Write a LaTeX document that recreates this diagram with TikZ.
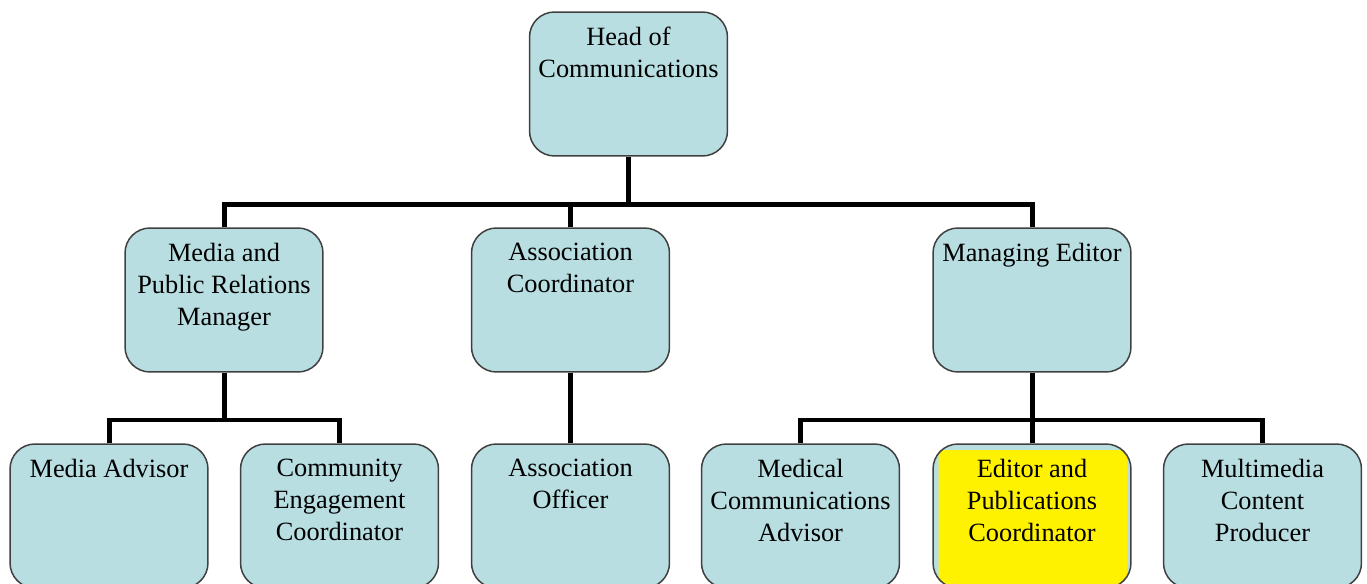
\documentclass[tikz,border=0pt]{standalone}
\usepackage{fontspec}
\setmainfont{Liberation Serif}
\usetikzlibrary{positioning}
\definecolor{boxblue}{RGB}{184,222,226}
\definecolor{boxline}{RGB}{64,64,64}
\newcommand{\roletext}[1]{\parbox[c][2.88cm][t]{3.96cm}{\centering\vspace*{0.3cm}#1}}
\tikzset{
  role/.style={
    draw=boxline, fill=boxblue, rectangle, rounded corners=0.5cm, line width=0.03cm,
    minimum width=3.96cm, minimum height=2.88cm, inner sep=0mm,
    font=\fontsize{15}{18.2}\selectfont
  },
  hilite/.style={
    role, path picture={\fill[yellow, rounded corners=2pt]
      ([xshift=0.11cm,yshift=-0.12cm]path picture bounding box.north west) rectangle
      ([xshift=-0.07cm]path picture bounding box.south east);}
  },
  conn/.style={line width=0.1cm, black}
}

\begin{document}
\begin{tikzpicture}[x=0.02cm, y=-0.02cm]
 \useasboundingbox (0, 0) rectangle (1367, 584);

 \node[role] (head) at (628.5, 84) {\roletext{Head of\\Communications}};

 \node[role] (mpr) at (224, 300) {\roletext{Media and\\Public Relations\\Manager}};
 \node[role] (ac) at (570.5, 300) {\roletext{Association\\Coordinator}};
 \node[role] (me) at (1032, 300) {\roletext{Managing Editor}};

 \node[role] (ma) at (109, 516) {\roletext{Media Advisor}};
 \node[role] (cec) at (339.5, 516) {\roletext{Community\\Engagement\\Coordinator}};
 \node[role] (ao) at (570.5, 516) {\roletext{Association\\Officer}};
 \node[role] (mca) at (800.5, 516) {\roletext{Medical\\Communications\\Advisor}};
 \node[hilite] (epc) at (1032, 516) {\roletext{Editor and\\Publications\\Coordinator}};
 \node[role] (mcp) at (1262.5, 516) {\roletext{Multimedia\\Content\\Producer}};

 \coordinate (top) at (628.5, 205);
 \coordinate (left) at (224, 420);
 \coordinate (right) at (1032, 420);

 % head to the three managers
 \draw[conn] (head.south) -- (top);
 \draw[conn] (mpr.north) |- (top) -| (me.north);
 \draw[conn] (ac.north) -- (ac.north |- top);

 % managers to their staff
 \draw[conn] (mpr.south) -- (left);
 \draw[conn] (ma.north) |- (left) -| (cec.north);
 \draw[conn] (ac.south) -- (ao.north);
 \draw[conn] (me.south) -- (right);
 \draw[conn] (mca.north) |- (right) -| (mcp.north);
 \draw[conn] (epc.north) -- (epc.north |- right);

\end{tikzpicture}
\end{document}
